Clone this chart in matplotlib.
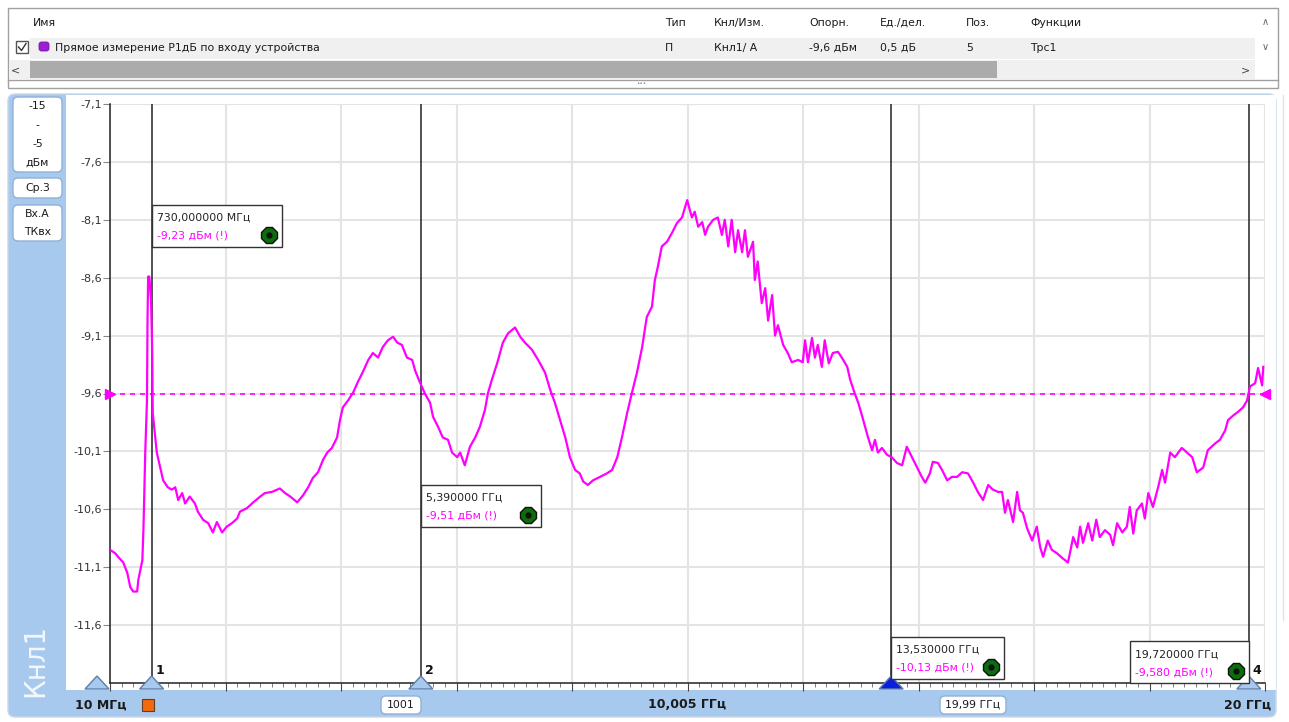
import matplotlib
matplotlib.use("Agg")
import matplotlib.pyplot as plt
from matplotlib.patches import Rectangle, FancyBboxPatch, Polygon

# --- data ---
freq_ghz = [
    0.01, 0.10, 0.15, 0.24, 0.31, 0.36, 0.41, 0.48, 0.50, 0.57,
    0.59, 0.62, 0.65, 0.66, 0.67, 0.69, 0.72, 0.74, 0.75, 0.82,
    0.88, 0.93, 1.01, 1.08, 1.14, 1.19, 1.26, 1.31, 1.39, 1.48,
    1.53, 1.62, 1.71, 1.79, 1.86, 1.95, 2.03, 2.12, 2.21, 2.26,
    2.38, 2.49, 2.61, 2.69, 2.81, 2.95, 3.04, 3.13, 3.25, 3.35,
    3.44, 3.52, 3.61, 3.70, 3.77, 3.85, 3.94, 3.99, 4.04, 4.13,
    4.22, 4.30, 4.39, 4.48, 4.56, 4.65, 4.73, 4.82, 4.91, 4.98,
    5.06, 5.15, 5.24, 5.29, 5.37, 5.46, 5.55, 5.60, 5.69, 5.77,
    5.86, 5.93, 6.02, 6.07, 6.15, 6.24, 6.33, 6.41, 6.50, 6.55,
    6.62, 6.71, 6.81, 6.90, 7.02, 7.11, 7.19, 7.31, 7.42, 7.54,
    7.63, 7.71, 7.80, 7.89, 7.97, 8.06, 8.14, 8.20, 8.28, 8.37,
    8.49, 8.61, 8.70, 8.79, 8.87, 8.96, 9.04, 9.13, 9.22, 9.30,
    9.39, 9.44, 9.49, 9.56, 9.65, 9.74, 9.82, 9.91, 10.00, 10.08,
    10.13, 10.19, 10.26, 10.31, 10.36, 10.45, 10.53, 10.60, 10.65, 10.71,
    10.77, 10.83, 10.88, 10.95, 11.00, 11.05, 11.14, 11.17, 11.22, 11.29,
    11.35, 11.40, 11.47, 11.52, 11.57, 11.66, 11.74, 11.81, 11.92, 12.00,
    12.04, 12.09, 12.16, 12.21, 12.26, 12.33, 12.38, 12.45, 12.52, 12.61,
    12.70, 12.77, 12.82, 12.90, 12.96, 13.03, 13.08, 13.13, 13.20, 13.25,
    13.30, 13.37, 13.46, 13.54, 13.63, 13.72, 13.80, 13.89, 13.98, 14.06,
    14.12, 14.20, 14.25, 14.34, 14.41, 14.50, 14.58, 14.67, 14.76, 14.86,
    14.95, 15.03, 15.12, 15.21, 15.29, 15.38, 15.45, 15.50, 15.55, 15.64,
    15.71, 15.76, 15.81, 15.88, 15.97, 16.05, 16.11, 16.16, 16.24, 16.31,
    16.40, 16.49, 16.59, 16.68, 16.75, 16.80, 16.85, 16.94, 17.01, 17.08,
    17.14, 17.23, 17.32, 17.37, 17.44, 17.53, 17.61, 17.66, 17.72, 17.78,
    17.87, 17.92, 17.98, 18.06, 18.15, 18.22, 18.27, 18.36, 18.44, 18.56,
    18.65, 18.74, 18.82, 18.93, 19.01, 19.14, 19.22, 19.31, 19.36, 19.45,
    19.53, 19.62, 19.69, 19.74, 19.83, 19.88, 19.95, 19.97,
]
level_dbm = [
    -10.95, -10.98, -11.01, -11.06, -11.15, -11.27, -11.31, -11.31, -11.21, -11.04,
    -10.75, -10.11, -9.66, -8.94, -8.59, -8.59, -8.79, -9.22, -9.77, -10.11,
    -10.24, -10.35, -10.41, -10.43, -10.41, -10.52, -10.46, -10.55, -10.49, -10.55,
    -10.62, -10.69, -10.72, -10.80, -10.71, -10.80, -10.75, -10.72, -10.68, -10.62,
    -10.59, -10.54, -10.49, -10.46, -10.45, -10.42, -10.46, -10.49, -10.54, -10.48,
    -10.41, -10.33, -10.28, -10.17, -10.11, -10.07, -9.98, -9.83, -9.72, -9.66,
    -9.59, -9.50, -9.41, -9.31, -9.25, -9.29, -9.20, -9.14, -9.11, -9.16,
    -9.18, -9.29, -9.31, -9.40, -9.50, -9.60, -9.68, -9.80, -9.89, -9.98,
    -10.00, -10.11, -10.15, -10.11, -10.22, -10.06, -9.98, -9.89, -9.74, -9.60,
    -9.48, -9.34, -9.16, -9.08, -9.03, -9.11, -9.16, -9.22, -9.31, -9.42,
    -9.57, -9.68, -9.83, -9.98, -10.15, -10.26, -10.29, -10.36, -10.39, -10.35,
    -10.32, -10.29, -10.26, -10.15, -9.98, -9.77, -9.60, -9.42, -9.20, -8.94,
    -8.85, -8.62, -8.51, -8.33, -8.29, -8.21, -8.13, -8.08, -7.93, -8.08,
    -8.03, -8.16, -8.12, -8.23, -8.16, -8.10, -8.08, -8.23, -8.10, -8.33,
    -8.10, -8.38, -8.19, -8.38, -8.19, -8.42, -8.29, -8.62, -8.46, -8.82,
    -8.69, -8.97, -8.75, -9.10, -9.01, -9.18, -9.25, -9.33, -9.31, -9.33,
    -9.14, -9.33, -9.12, -9.29, -9.18, -9.37, -9.14, -9.34, -9.25, -9.24,
    -9.31, -9.37, -9.48, -9.60, -9.68, -9.80, -9.89, -9.98, -10.09, -10.00,
    -10.11, -10.07, -10.13, -10.15, -10.20, -10.22, -10.06, -10.15, -10.24, -10.32,
    -10.37, -10.29, -10.19, -10.20, -10.26, -10.35, -10.32, -10.32, -10.28, -10.29,
    -10.37, -10.45, -10.52, -10.39, -10.43, -10.45, -10.45, -10.63, -10.52, -10.71,
    -10.45, -10.61, -10.63, -10.76, -10.87, -10.75, -10.93, -11.01, -10.87, -10.95,
    -10.98, -11.02, -11.06, -10.84, -10.93, -10.75, -10.89, -10.72, -10.87, -10.69,
    -10.84, -10.78, -10.82, -10.91, -10.72, -10.80, -10.75, -10.58, -10.81, -10.61,
    -10.55, -10.68, -10.46, -10.58, -10.41, -10.26, -10.37, -10.11, -10.15, -10.07,
    -10.11, -10.15, -10.28, -10.24, -10.09, -10.03, -10.00, -9.92, -9.83, -9.79,
    -9.76, -9.72, -9.66, -9.54, -9.51, -9.38, -9.53, -9.37,
]

y_ticks = [-7.1, -7.6, -8.1, -8.6, -9.1, -9.6, -10.1, -10.6, -11.1, -11.6]
y_bottom = -12.1
f_start, f_stop = 0.01, 20.0
ref_level = -9.6

marker_num = ["1", "2", "", "4"]   # label of marker 3 is hidden under its readout
marker_freq = [0.73, 5.39, 13.53, 19.72]
marker_freq_txt = ["730,000000 МГц", "5,390000 ГГц", "13,530000 ГГц", "19,720000 ГГц"]
marker_val_txt = ["-9,23 дБм (!)", "-9,51 дБм (!)", "-10,13 дБм (!)", "-9,580 дБм (!)"]
marker_box_top = [-7.97, -10.39, -11.70, -11.74]

table_header = ["Имя", "Тип", "Кнл/Изм.", "Опорн.", "Ед./дел.", "Поз.", "Функции"]
table_row = ["Прямое измерение Р1дБ по входу устройства", "П", "Кнл1/ А",
             "-9,6 дБм", "0,5 дБ", "5", "Трс1"]
scale_lines = ["-15", "-", "-5", "дБм"]

# --- layout ---
W, H = 1289, 722
MAG = "#ff00ff"
BLUE = "#a8c9ee"
plt.rcParams["font.family"] = ["DejaVu Sans"]

fig = plt.figure(figsize=(W / 100, H / 100), dpi=100)
fig.patch.set_facecolor("white")

bg = fig.add_axes([0, 0, 1, 1], zorder=0)
bg.set_xlim(0, W)
bg.set_ylim(H, 0)
bg.axis("off")

top = fig.add_axes([0, 0, 1, 1], zorder=5)
top.set_xlim(0, W)
top.set_ylim(H, 0)
top.axis("off")
top.patch.set_alpha(0)

ax = fig.add_axes([110 / W, (H - 683) / H, 1155 / W, 579 / H], zorder=2)
ax.set_xlim(f_start, f_stop)
ax.set_ylim(y_bottom, y_ticks[0])


def to_px(x, y):
    return top.transData.inverted().transform(ax.transData.transform((x, y)))


# table panel
bg.add_patch(Rectangle((8, 8), 1270, 80, fc="white", ec="#a0a0a0", lw=1))
bg.add_patch(Rectangle((30, 38), 1225, 21, fc="#f0f0f0", ec="none"))
bg.add_patch(Rectangle((9, 60), 1246, 19, fc="#f0f0f0", ec="none"))
bg.add_patch(Rectangle((30, 61), 967, 17, fc="#ababab", ec="none"))
bg.plot([8, 1278], [80, 80], color="#a0a0a0", lw=1)
bg.add_patch(Rectangle((16, 41), 12, 12, fc="white", ec="#555555", lw=1))
bg.plot([18.5, 21.5, 26], [47, 50.5, 43.5], color="#333333", lw=1)
bg.add_patch(FancyBboxPatch((39, 42), 10, 9, boxstyle="round,pad=0,rounding_size=2.5",
                            fc="#9a1fd0", ec="#7a10b0", lw=0.6))
col_x = [33, 665, 714, 809, 880, 966, 1030]
for i, (h, r) in enumerate(zip(table_header, table_row)):
    bg.text(col_x[i], 23, h, fontsize=7.8, color="#1a1a1a", va="center")
    bg.text(55 if i == 0 else col_x[i], 48, r, fontsize=7.8, color="#1a1a1a", va="center")
bg.text(1265, 22, "∧", fontsize=7, color="#666666", ha="center", va="center")
bg.text(1265, 47, "∨", fontsize=7, color="#666666", ha="center", va="center")
bg.text(16, 70, "<", fontsize=8, color="#444444", ha="center", va="center")
bg.text(1245, 70, ">", fontsize=8, color="#444444", ha="center", va="center")
bg.text(641, 84, "•••", fontsize=4, color="#777777", ha="center", va="center")
bg.plot([1283, 1283], [95, 620], color="#e2e2e2", lw=1)

# channel panel
bg.add_patch(FancyBboxPatch((8, 94), 1268, 623, boxstyle="round,pad=0,rounding_size=7",
                            fc=BLUE, ec="#c8d8ea", lw=1))
bg.add_patch(Rectangle((66, 95), 1210, 595, fc="white", ec="none"))

side_boxes = [(97, 75, scale_lines), (178, 20, ["Ср.3"]), (205, 36, ["Вх.А", "ТКвх"])]
for y0, hh, lines in side_boxes:
    bg.add_patch(FancyBboxPatch((13, y0), 49, hh, boxstyle="round,pad=0,rounding_size=5",
                                fc="white", ec="#8fb0d8", lw=1))
    step = hh / len(lines)
    for k, t in enumerate(lines):
        bg.text(37.5, y0 + step * (k + 0.5), t, fontsize=7.8, color="#1a1a1a",
                ha="center", va="center")
bg.text(35, 660, "Кнл1", fontsize=20, color="#f4f8fd", rotation=90,
        ha="center", va="center")

# bottom bar
bg.text(75, 705, "10 МГц", fontsize=9, fontweight="bold", color="#1a1a1a", va="center")
bg.add_patch(Rectangle((142, 699), 12, 12, fc="#f26a10", ec="#6a3a20", lw=0.8))
for cx, wd, t in [(401, 40, "1001"), (973, 66, "19,99 ГГц")]:
    bg.add_patch(FancyBboxPatch((cx - wd / 2, 696), wd, 18,
                                boxstyle="round,pad=0,rounding_size=5",
                                fc="white", ec="#8fb0d8", lw=1))
    bg.text(cx, 705, t, fontsize=7.8, color="#1a1a1a", ha="center", va="center")
bg.text(687, 705, "10,005 ГГц", fontsize=9, fontweight="bold", color="#1a1a1a",
        ha="center", va="center")
bg.text(1271, 705, "20 ГГц", fontsize=9, fontweight="bold", color="#1a1a1a",
        ha="right", va="center")

# plot axes
ax.set_facecolor("white")
for s in ["top", "right"]:
    ax.spines[s].set_visible(False)
for s in ["left", "bottom"]:
    ax.spines[s].set_color("#222222")
    ax.spines[s].set_linewidth(1.1)
div = (f_stop - f_start) / 10
ax.set_xticks([f_start + k * div for k in range(11)])
ax.set_xticks([f_start + k * div / 10 for k in range(101)], minor=True)
ax.tick_params(axis="x", which="major", length=6, color="#444444", labelbottom=False)
ax.tick_params(axis="x", which="minor", length=3, color="#666666")
ax.set_yticks(y_ticks)
ax.set_yticklabels([f"{v:.1f}".replace(".", ",") for v in y_ticks])
ax.tick_params(axis="y", length=5, color="#888888", labelsize=8, labelcolor="#333333", pad=1)
ax.grid(True, which="major", color="#e4e4e4", lw=1.5)
ax.set_axisbelow(True)

ax.axhline(ref_level, color=MAG, lw=1.2, ls=(0, (3, 3)), zorder=2)
ax.plot([f_start], [ref_level], marker=">", color=MAG, ms=7, clip_on=False, zorder=4)
ax.plot([f_stop], [ref_level], marker="<", color=MAG, ms=7, clip_on=False, zorder=4)
for f in marker_freq:
    ax.axvline(f, color="#222222", lw=1.1, zorder=2)
ax.plot(freq_ghz, level_dbm, color=MAG, lw=1.6, zorder=3)

# marker triangles and readouts
box_w = [130, 120, 113, 119]
box_side = [1, 1, 1, -1]
tri_x = [to_px(f, y_bottom)[0] for f in marker_freq]
for px, face in [(97, "#a8c9ee")] + list(zip(tri_x, ["#a8c9ee", "#a8c9ee", "#0a1ee0", "#a8c9ee"])):
    top.add_patch(Polygon([(px - 12, 689), (px + 12, 689), (px, 676)], closed=True,
                          fc=face, ec="#5f7fa8", lw=1))
for i, f in enumerate(marker_freq):
    px, py = to_px(f, marker_box_top[i])
    if marker_num[i]:
        top.text(px + 4, 670, marker_num[i], fontsize=9, fontweight="bold",
                 color="#111111", va="center")
    x0 = px if box_side[i] > 0 else px - box_w[i]
    top.add_patch(Rectangle((x0, py), box_w[i], 42, fc="white", ec="#333333", lw=1, zorder=3))
    top.text(x0 + 5, py + 13, marker_freq_txt[i], fontsize=7.8, color="#222222",
             va="center", zorder=4)
    top.text(x0 + 5, py + 31, marker_val_txt[i], fontsize=7.8, color=MAG,
             va="center", zorder=4)
    top.plot([x0 + box_w[i] - 13], [py + 30], marker="8", ms=12, mfc="#0b6e0b",
             mec="#111111", mew=1, zorder=5)
    top.plot([x0 + box_w[i] - 13], [py + 30], marker="o", ms=3.5, color="#111111", zorder=6)

fig.savefig("out.png", dpi=100)
